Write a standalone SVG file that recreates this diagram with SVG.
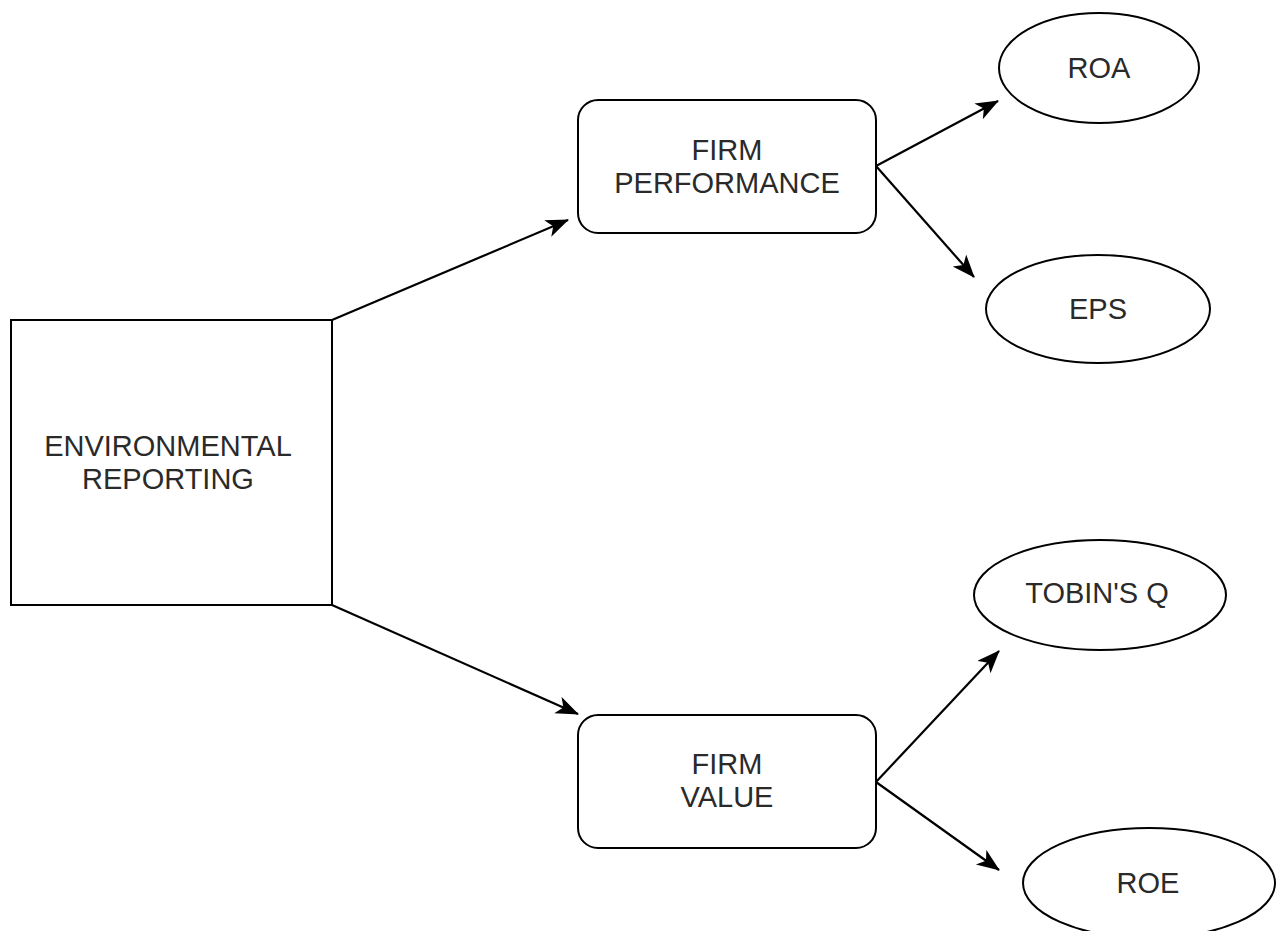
<svg xmlns="http://www.w3.org/2000/svg" width="1276" height="931" viewBox="0 0 1276 931">
<style>
.shape{fill:#fff;stroke:#000;stroke-width:2}
.lbl{font-family:"Liberation Sans",Arial,sans-serif;font-size:29px;fill:#2a2a2a;text-anchor:middle}
.edge{fill:none;stroke:#000;stroke-width:2.2;marker-end:url(#arr)}
</style>
<defs>
<marker id="arr" markerUnits="userSpaceOnUse" markerWidth="26" markerHeight="20" refX="22" refY="9" orient="auto" viewBox="0 0 26 20">
<path d="M0,0 L23,9 L0,18 L6,9 Z" fill="#000"/>
</marker>
</defs>
<rect width="1276" height="931" fill="#fff"/>
<g id="connectors">
<line class="edge" x1="332" y1="320" x2="568" y2="220"/>
<line class="edge" x1="332" y1="605" x2="578" y2="714"/>
<line class="edge" x1="876" y1="166" x2="998" y2="101"/>
<line class="edge" x1="876" y1="166" x2="974" y2="277"/>
<line class="edge" x1="876" y1="782" x2="999" y2="651"/>
<line class="edge" x1="876" y1="782" x2="999" y2="870"/>
</g>
<g id="env">
<rect class="shape" x="11" y="320" width="321" height="285"/>
<text class="lbl" x="168" y="456">ENVIRONMENTAL</text>
<text class="lbl" x="168" y="489">REPORTING</text>
</g>
<g id="perf">
<rect class="shape" x="578" y="100" width="298" height="133" rx="20" ry="20"/>
<text class="lbl" x="727" y="160">FIRM</text>
<text class="lbl" x="727" y="193">PERFORMANCE</text>
</g>
<g id="value">
<rect class="shape" x="578" y="715" width="298" height="133" rx="20" ry="20"/>
<text class="lbl" x="727" y="774">FIRM</text>
<text class="lbl" x="727" y="807">VALUE</text>
</g>
<g id="roa">
<ellipse class="shape" cx="1099" cy="68" rx="100" ry="55"/>
<text class="lbl" x="1099" y="78">ROA</text>
</g>
<g id="eps">
<ellipse class="shape" cx="1098" cy="309" rx="112" ry="54"/>
<text class="lbl" x="1098" y="319">EPS</text>
</g>
<g id="tobin">
<ellipse class="shape" cx="1100" cy="595" rx="126" ry="55"/>
<text class="lbl" x="1097" y="603">TOBIN'S Q</text>
</g>
<g id="roe">
<ellipse class="shape" cx="1149" cy="883" rx="126" ry="55"/>
<text class="lbl" x="1148" y="893">ROE</text>
</g>
</svg>
